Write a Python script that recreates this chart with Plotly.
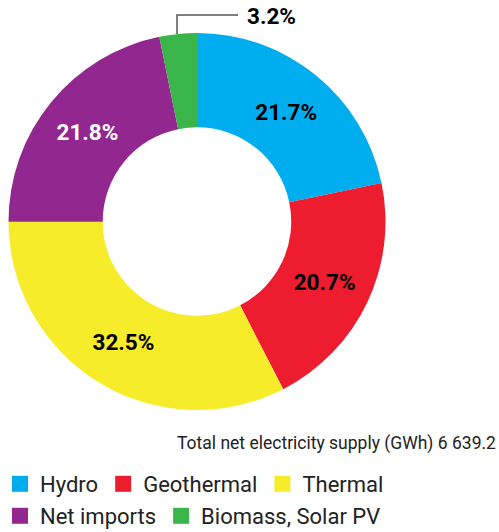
import plotly.graph_objects as go

labels = ["Hydro", "Geothermal", "Thermal", "Net imports", "Biomass, Solar PV"]
shares = [21.7, 20.7, 32.5, 21.8, 3.2]
colors = ["#00AEEF", "#ED1C2E", "#F7EC2A", "#92278F", "#39B54A"]
text_colors = ["black", "black", "black", "white", "black"]
legend_rows = ["legend", "legend", "legend", "legend2", "legend2"]
total_label = "Total net electricity supply (GWh) 6 639.2"

W, H = 499, 532
FONT = "Roboto"

# inside labels for all slices but the tiny one, which gets a leader line
slice_text = [f"<b>{v}%</b>" if v > 5 else "" for v in shares]

fig = go.Figure(go.Pie(
    labels=labels,
    values=shares,
    text=slice_text,
    textinfo="text",
    textposition="inside",
    insidetextorientation="horizontal",
    textfont=dict(family=FONT, size=22.5, color=text_colors),
    marker=dict(colors=colors, line=dict(width=0)),
    hole=0.5,
    sort=False,
    direction="clockwise",
    rotation=0,
    domain=dict(x=[8 / W, 386 / W], y=[1 - 410 / H, 1 - 33 / H]),
    hoverinfo="label+percent",
    showlegend=False,
))

# legend entries as dummy square markers so the two rows keep natural widths
for lab, col, lg in zip(labels, colors, legend_rows):
    fig.add_trace(go.Scatter(
        x=[None], y=[None], mode="markers", name=lab, legend=lg,
        marker=dict(symbol="square", size=16, color=col),
        hoverinfo="skip",
    ))

# leader line for the small slice
fig.add_shape(type="path", xref="paper", yref="paper",
              path=f"M {177/W},{1-34/H} L {177/W},{1-15/H} L {238/W},{1-15/H}",
              line=dict(color="#555555", width=1.5))
fig.add_annotation(x=245 / W, y=1 - 16 / H, xref="paper", yref="paper",
                   xanchor="left", yanchor="middle", showarrow=False,
                   text=f"<b>{shares[-1]}%</b>",
                   font=dict(family=FONT, size=22.5, color="black"))

fig.add_annotation(x=498 / W, y=1 - 443 / H, xref="paper", yref="paper",
                   xanchor="right", yanchor="middle", showarrow=False,
                   text=total_label,
                   font=dict(family=FONT, size=17.5, color="#222222"))

legend_style = dict(
    orientation="h",
    xanchor="left", yanchor="middle",
    font=dict(family=FONT, size=22, color="#222222"),
    itemwidth=30,
    bgcolor="rgba(0,0,0,0)",
)

fig.update_layout(
    width=W, height=H,
    # legends sit near the bottom edge; keep them from pushing the margins
    margin=dict(l=0, r=0, t=0, b=0, autoexpand=False),
    paper_bgcolor="white",
    plot_bgcolor="white",
    font=dict(family=FONT, color="#222222"),
    xaxis=dict(visible=False),
    yaxis=dict(visible=False),
    legend=dict(x=0, y=1 - 484 / H, **legend_style),
    legend2=dict(x=0, y=1 - 516 / H, **legend_style),
)

# drop the default page margin so the figure sits at the window's corner
fig.write_html("out.html", config={"displayModeBar": False},
               post_script="document.body.style.margin='0';")
